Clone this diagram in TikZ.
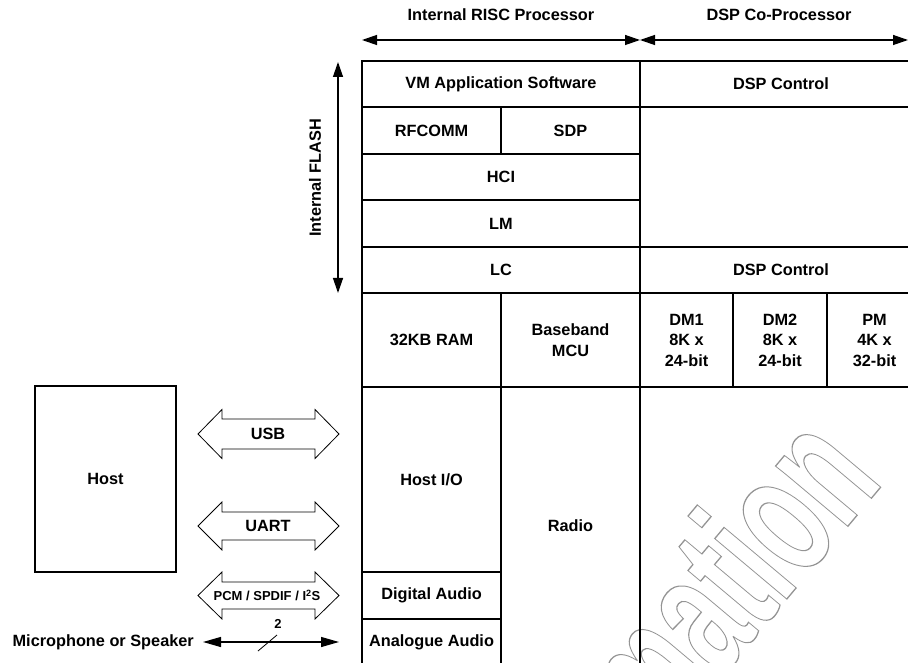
\documentclass[tikz,border=0pt]{standalone}
\usepackage{fontspec}
\setmainfont{Liberation Sans}
\usetikzlibrary{arrows.meta}
\newcommand\cellbox[6]{%
  \node[cellst, minimum width={(#4-#2)*1pt}, minimum height={(#5-#3)*1pt}] (#1) at ({(#2+#4)/2},{(#3+#5)/2}) {#6};}
\newcommand\blkarrow[3]{%
  \draw[barrow] (198,#1) -- (222,{#1-#2}) -- (222,{#1-#3}) -- (315,{#1-#3}) -- (315,{#1-#2})
    -- (339,#1) -- (315,{#1+#2}) -- (315,{#1+#3}) -- (222,{#1+#3}) -- (222,{#1+#2}) -- cycle;}
\begin{document}
\begin{tikzpicture}[x=1pt,y=-1pt,
  cellst/.style={draw, line width=1.2pt, inner sep=0pt, outer sep=0pt, align=center,
    font=\fontsize{16.3}{20.5}\selectfont\bfseries},
  lbl/.style={font=\fontsize{16.3}{20}\selectfont\bfseries, inner sep=0pt},
  small/.style={font=\fontsize{13}{15}\selectfont\bfseries, inner sep=0pt},
  barrow/.style={draw, line width=0.8pt, line join=miter},
  dimarrow/.style={line width=1.3pt, {Triangle[length=15pt,width=10pt]}-{Triangle[length=15pt,width=10pt]}},
  micarrow/.style={line width=1.3pt, {Triangle[length=18pt,width=10pt]}-{Triangle[length=18pt,width=10pt]}},
]
\useasboundingbox (0,0) rectangle (908,663);

% watermark
\begin{scope}[shift={(885,482)}, rotate=50, xscale=0.6]
  \node[transform shape, anchor=base east, inner sep=0pt, text=black!42,
    font=\fontsize{178}{178}\selectfont\bfseries] (wm) at (0,0)
    {\special{pdf:literal direct 1 Tr 1.3 w}Information};
\end{scope}

% column headers
\node[lbl] (risc) at (501,15) {Internal RISC Processor};
\node[lbl] (dspcop) at (779,15) {DSP Co-Processor};
\coordinate (risc-l) at (362,40);
\coordinate (risc-r) at (640,40);
\coordinate (dsp-l) at (640,40);
\coordinate (dsp-r) at (908,40);
\draw[dimarrow] (risc-l) -- (risc-r);
\draw[dimarrow] (dsp-l) -- (dsp-r);

% flash
\coordinate (fl-t) at (338,62);
\coordinate (fl-b) at (338,293);
\draw[dimarrow] (fl-t) -- (fl-b);
\node[lbl, rotate=90] (flash) at (315,178) {Internal FLASH};

% main blocks
\cellbox{vm}{362}{61}{640}{107}{VM Application Software}
\cellbox{dspa}{640}{61}{922}{107}{DSP Control}
\cellbox{rfcomm}{362}{107}{501}{154}{RFCOMM}
\cellbox{sdp}{501}{107}{640}{154}{SDP}
\cellbox{dspgap}{640}{107}{922}{247}{}
\cellbox{hci}{362}{154}{640}{200}{HCI}
\cellbox{lm}{362}{200}{640}{247}{LM}
\cellbox{lc}{362}{247}{640}{293}{LC}
\cellbox{dspb}{640}{247}{922}{293}{DSP Control}
\cellbox{ram}{362}{293}{501}{387}{32KB RAM}
\cellbox{bb}{501}{293}{640}{387}{Baseband\\MCU}
\cellbox{dm1}{640}{293}{733}{387}{DM1\\8K x\\24-bit}
\cellbox{dm2}{733}{293}{827}{387}{DM2\\8K x\\24-bit}
\cellbox{pm}{827}{293}{922}{387}{PM\\4K x\\32-bit}
\cellbox{hostio}{362}{387}{501}{572}{Host I/O}
\cellbox{dig}{362}{572}{501}{619}{Digital Audio}
\cellbox{ana}{362}{619}{501}{665}{Analogue Audio}
\cellbox{radio}{501}{387}{640}{665}{Radio}
\cellbox{dspc}{640}{387}{922}{665}{}

% host
\cellbox{host}{35}{386}{176}{572}{Host}

% interface arrows
\blkarrow{434}{24.5}{15}
\node[lbl] (usb) at (268,434) {USB};
\blkarrow{526}{24}{14}
\node[lbl] (uart) at (268,526) {UART};
\blkarrow{595.5}{23.5}{13.5}
\node[small] (pcm) at (267,595.5) {PCM / SPDIF / I\textsuperscript{2}S};

% microphone
\coordinate (mic-l) at (203,642);
\coordinate (mic-r) at (339,642);
\draw[micarrow] (mic-l) -- (mic-r);
\node[lbl, anchor=east] (mic) at (194,642) {Microphone or Speaker};
\coordinate (s1) at (258,651);
\coordinate (s2) at (277,635);
\draw[line width=0.8pt] (s1) -- (s2);
\node[small] (two) at (278,624) {2};
\end{tikzpicture}
\end{document}
